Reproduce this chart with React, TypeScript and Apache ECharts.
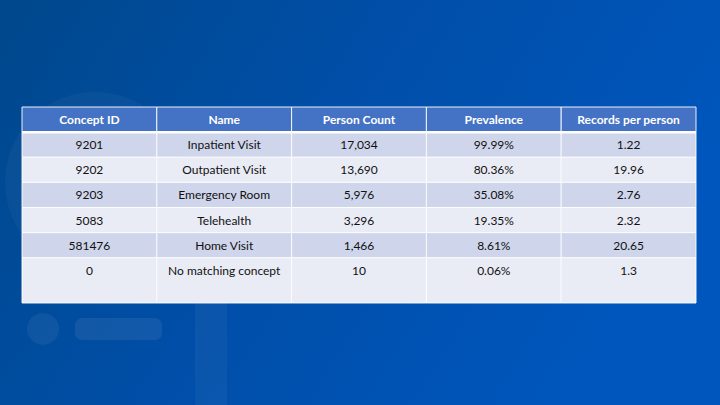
import React, { useEffect, useRef } from "react";
import * as echarts from "echarts";

const columns = ["Concept ID", "Name", "Person Count", "Prevalence", "Records per person"];
const conceptIds = ["9201", "9202", "9203", "5083", "581476", "0"];
const names = ["Inpatient Visit", "Outpatient Visit", "Emergency Room", "Telehealth", "Home Visit", "No matching concept"];
const personCounts = [17034, 13690, 5976, 3296, 1466, 10];
const prevalence = [99.99, 80.36, 35.08, 19.35, 8.61, 0.06];
const recordsPerPerson = [1.22, 19.96, 2.76, 2.32, 20.65, 1.3];
const lastRowSpan = 1.8;

const FONT = "Lato, 'Open Sans', sans-serif";

export default function App() {
  const ref = useRef<HTMLDivElement>(null);
  useEffect(() => {
    if (!ref.current) return;
    const chart = echarts.init(ref.current, null, { renderer: "svg" });

    const rowsText: string[][] = conceptIds.map((id, i) => [
      id,
      names[i],
      personCounts[i].toLocaleString("en-US"),
      prevalence[i].toFixed(2) + "%",
      String(recordsPerPerson[i]),
    ]);
    const nRows = rowsText.length;
    const cells: any[] = [];
    columns.forEach((c, j) => cells.push([j, 0, 1, c, 0]));
    rowsText.forEach((r, i) => {
      const span = i === nRows - 1 ? lastRowSpan : 1;
      r.forEach((t, j) => cells.push([j, i + 1, span, t, i + 1]));
    });
    const yMax = nRows + lastRowSpan;

    chart.setOption({
      animation: false,
      backgroundColor: {
        type: "linear",
        x: 0,
        y: 0,
        x2: 1,
        y2: 0.35,
        colorStops: [
          { offset: 0, color: "#00488c" },
          { offset: 0.5, color: "#004ea8" },
          { offset: 1, color: "#0056bc" },
        ],
      },
      graphic: [
        { type: "circle", shape: { cx: 95, cy: 182, r: 90 }, style: { fill: "rgba(255,255,255,0.035)" }, z: 0 },
        { type: "rect", shape: { x: 195, y: 303, width: 32, height: 102 }, style: { fill: "rgba(255,255,255,0.045)" }, z: 0 },
        { type: "circle", shape: { cx: 43, cy: 329, r: 16 }, style: { fill: "rgba(255,255,255,0.06)" }, z: 0 },
        { type: "rect", shape: { x: 75, y: 318, width: 87, height: 22, r: 7 }, style: { fill: "rgba(255,255,255,0.07)" }, z: 0 },
      ],
      grid: { left: 22, top: 107, width: 674, height: 196 },
      xAxis: { type: "value", min: 0, max: columns.length, show: false },
      yAxis: { type: "value", min: 0, max: yMax, inverse: true, show: false },
      series: [
        {
          type: "custom",
          coordinateSystem: "cartesian2d",
          z: 5,
          data: cells,
          renderItem: (params: any, api: any) => {
            const col = api.value(0);
            const row = api.value(1);
            const span = api.value(2);
            const kind = api.value(4);
            const text = cells[params.dataIndex][3];
            const p0 = api.coord([col, row]);
            const p1 = api.coord([col + 1, row + span]);
            const pm = api.coord([col + 0.5, row + 0.5]);
            const isHeader = kind === 0;
            const fill = isHeader ? "#4472c4" : kind % 2 === 1 ? "#cfd5ea" : "#e9ebf5";
            const children: any[] = [
              {
                type: "rect",
                shape: { x: p0[0], y: p0[1], width: p1[0] - p0[0], height: p1[1] - p0[1] },
                style: { fill, stroke: "rgba(255,255,255,0.9)", lineWidth: 1 },
              },
              {
                type: "text",
                x: pm[0],
                y: pm[1],
                style: {
                  text,
                  fill: isHeader ? "#ffffff" : "#111111",
                  font: (isHeader ? "bold " : "") + "12px " + FONT,
                  align: "center",
                  verticalAlign: "middle",
                },
              },
            ];
            if (isHeader) {
              children.push({
                type: "line",
                shape: { x1: p0[0], y1: p1[1], x2: p1[0], y2: p1[1] },
                style: { stroke: "#ffffff", lineWidth: 2.5 },
                z2: 10,
              });
            }
            return { type: "group", children };
          },
        },
      ],
    });
    return () => chart.dispose();
  }, []);
  return <div ref={ref} style={{ position: "fixed", left: 0, top: 0, width: 720, height: 405 }} />;
}
